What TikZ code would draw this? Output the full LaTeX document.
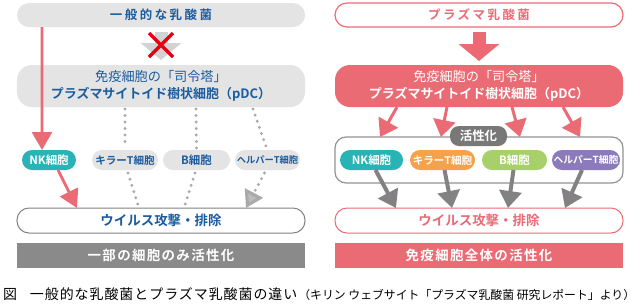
\documentclass[tikz,border=0pt]{standalone}
\usepackage{fontspec}
\setmainfont{Noto Sans CJK JP}[BoldFont={Noto Sans CJK JP Bold}]
\usetikzlibrary{arrows.meta}
\definecolor{pinkc}{HTML}{EA6B74}
\definecolor{boxgray}{HTML}{E4E4E4}
\definecolor{tblue}{HTML}{1B5C9E}
\definecolor{tealc}{HTML}{2AB3B5}
\definecolor{orangec}{HTML}{F4A24B}
\definecolor{greenc}{HTML}{A7D06B}
\definecolor{purplec}{HTML}{8B7BBA}
\definecolor{bargray}{HTML}{8A8A8A}
\definecolor{agray}{HTML}{828282}
\definecolor{dotgray}{HTML}{AAAAAA}
\definecolor{lightarr}{HTML}{D3D3D3}
\definecolor{labgray}{HTML}{787878}
\definecolor{xred}{HTML}{E50012}
\newcommand\jfs[1]{\fontsize{#1}{#1}\selectfont}
\begin{document}
\begin{tikzpicture}[x=1bp,y=-1bp,
  every node/.style={inner sep=0pt,outer sep=0pt},
  wide/.style={minimum width=288bp},
  pillgray/.style={wide,fill=boxgray,rounded corners=12bp,minimum height=24bp,text=tblue},
  pdcbox/.style={wide,rounded corners=15bp,minimum height=42bp,align=center},
  virusbox/.style={wide,fill=white,rounded corners=12bp,minimum height=25bp,line width=1bp},
  barbox/.style={wide,minimum height=25bp,text=white},
  cellbox/.style={rounded corners=10bp,minimum height=20bp,font=\bfseries\jfs{10.6}},
  pinkarrow/.style={draw=pinkc,line width=3bp,-{Triangle[length=17bp,width=22bp]}},
  grayarrow/.style={draw=agray,line width=4bp,-{Triangle[length=17bp,width=22bp]}},
  dotline/.style={draw=dotgray,line width=3.2bp,line cap=round,dash pattern=on 0bp off 6.5bp},
  blockarrow/.style={line width=13bp,-{Triangle[length=17bp,width=40bp]}}
]
\useasboundingbox[fill=white] (0,0) rectangle (640,306);

% ---------------- left panel ----------------
\node[pillgray,font=\bfseries\jfs{12.5}\addfontfeature{LetterSpace=20}] (topL) at (161,15) {一般的な乳酸菌};
\node[pdcbox,fill=boxgray,text=tblue] (pdcL) at (161,86)
  {\jfs{13.2}免疫細胞の「司令塔」\\[3bp]{\bfseries\jfs{13}プラズマサイトイド樹状細胞（pDC）}};
\node[cellbox,fill=tealc,text=white,minimum width=54bp,font=\bfseries\jfs{11.5}] (nkL) at (49,160) {NK細胞};
\node[cellbox,fill=boxgray,text=tblue,minimum width=66bp] (killL) at (125,160) {キラーT細胞};
\node[cellbox,fill=boxgray,text=tblue,minimum width=67bp,font=\bfseries\jfs{11.5}] (bL) at (196.5,160) {B細胞};
\node[cellbox,fill=boxgray,text=tblue,minimum width=65bp,font=\bfseries\jfs{9.3}] (helpL) at (267.5,160) {ヘルパーT細胞};
\node[virusbox,draw=agray,text=tblue,font=\bfseries\jfs{13.5}] (virusL) at (161,220.5) {ウイルス攻撃・排除};
\node[barbox,fill=bargray,font=\bfseries\jfs{13.5}\addfontfeature{LetterSpace=10}] (barL) at (161,255.5) {一部の細胞のみ活性化};

% blocked arrow
\draw[blockarrow,draw=lightarr] ([yshift=-5bp]topL.south) -- ([yshift=5bp]pdcL.north);
\coordinate (xc) at (161,45);
\draw[xred,line width=3.5bp] ([shift={(-12,-12)}]xc) -- ([shift={(12,12)}]xc)
  ([shift={(-12,12)}]xc) -- ([shift={(12,-12)}]xc);

% NK direct path
\draw[pinkarrow,line width=2.7bp,-{Triangle[length=18bp,width=20bp]}] ([xshift=-119bp]topL.south) -- ([xshift=-7bp]nkL.north);
\draw[pinkarrow,line width=2.7bp,-{Triangle[length=18bp,width=20bp]}] ([xshift=9bp]nkL.south) -- ([xshift=-84bp]virusL.north);

% dotted inactive paths
\draw[dotline] ([xshift=-36bp,yshift=-2bp]pdcL.south) -- ([yshift=2bp]killL.north);
\draw[dotline] ([xshift=35bp,yshift=-2bp]pdcL.south) -- ([yshift=2bp]bL.north);
\draw[dotline] ([xshift=92bp,yshift=-2bp]pdcL.south) -- ([xshift=-1bp,yshift=2bp]helpL.north);
\draw[dotline] ([xshift=3bp,yshift=-3bp]killL.south) -- ([xshift=-23bp,yshift=3bp]virusL.north);
\draw[dotline] ([xshift=-1.5bp,yshift=-3bp]bL.south) -- ([xshift=24bp,yshift=3bp]virusL.north);
\draw[dotline,-{Triangle[length=17bp,width=20bp,fill=dotgray!85!black!60!white,color=dotgray]}] ([xshift=-3bp,yshift=-3bp]helpL.south) -- ([xshift=85bp]virusL.north);

% ---------------- right panel ----------------
\node[pillgray,fill=white,draw=pinkc,line width=1.2bp,text=pinkc,font=\bfseries\jfs{12.5}\addfontfeature{LetterSpace=20}] (topR) at (479,15) {プラズマ乳酸菌};
\node[pdcbox,fill=pinkc,text=white] (pdcR) at (479,86)
  {\jfs{13.2}免疫細胞の「司令塔」\\[3bp]{\bfseries\jfs{13}プラズマサイトイド樹状細胞（pDC）}};
\draw[blockarrow,draw=pinkc] ([yshift=-5bp]topR.south) -- ([yshift=4bp]pdcR.north);

\node[wide,minimum height=46bp,draw=labgray!80,line width=1.2bp,rounded corners=11bp] (act) at (479,160) {};
\node[fill=labgray,text=white,rounded corners=9bp,minimum width=57bp,minimum height=20bp,font=\bfseries\jfs{12.5}] (actlab) at (478.5,136) {活性化};

\node[cellbox,fill=tealc,text=white,minimum width=63bp,font=\bfseries\jfs{11.5}] (nkR) at (371.5,160) {NK細胞};
\node[cellbox,fill=orangec,text=white,minimum width=65bp] (killR) at (442.5,160) {キラーT細胞};
\node[cellbox,fill=greenc,text=white,minimum width=65bp,font=\bfseries\jfs{11.5}] (bR) at (514.5,160) {B細胞};
\node[cellbox,fill=purplec,text=white,minimum width=68bp,font=\bfseries\jfs{9.8}] (helpR) at (586,160) {ヘルパーT細胞};

\node[virusbox,draw=pinkc,text=pinkc,font=\bfseries\jfs{13.5}] (virusR) at (479,220.5) {ウイルス攻撃・排除};
\node[barbox,fill=pinkc,font=\bfseries\jfs{13.5}\addfontfeature{LetterSpace=10}] (barR) at (479,255.5) {免疫細胞全体の活性化};

% pDC to activation
\draw[pinkarrow] ([xshift=-82bp]pdcR.south) -- ([xshift=-99bp]act.north);
\draw[pinkarrow] ([xshift=-32bp]pdcR.south) -- ([xshift=-38bp]act.north);
\draw[pinkarrow] ([xshift=33bp]pdcR.south) -- ([xshift=41bp]act.north);
\draw[pinkarrow] ([xshift=84bp]pdcR.south) -- ([xshift=101bp]act.north);

% cells to virus attack
\draw[grayarrow] ([xshift=4bp]nkR.south) -- ([xshift=-83bp]virusR.north);
\draw[grayarrow] ([xshift=2bp]killR.south) -- ([xshift=-27bp]virusR.north);
\draw[grayarrow] ([xshift=-1bp]bR.south) -- ([xshift=29bp]virusR.north);
\draw[grayarrow] ([xshift=-4bp]helpR.south) -- ([xshift=86bp]virusR.north);

% ---------------- caption ----------------
\node[anchor=base west,font=\jfs{14}] (cap) at (3,299)
  {図\hspace{13bp}{\addfontfeature{LetterSpace=7}一般的な乳酸菌とプラズマ乳酸菌の違い}\hspace{1bp}{\jfs{11.9}（キリン ウェブサイト「プラズマ乳酸菌 研究レポート」より）}};
\end{tikzpicture}
\end{document}
